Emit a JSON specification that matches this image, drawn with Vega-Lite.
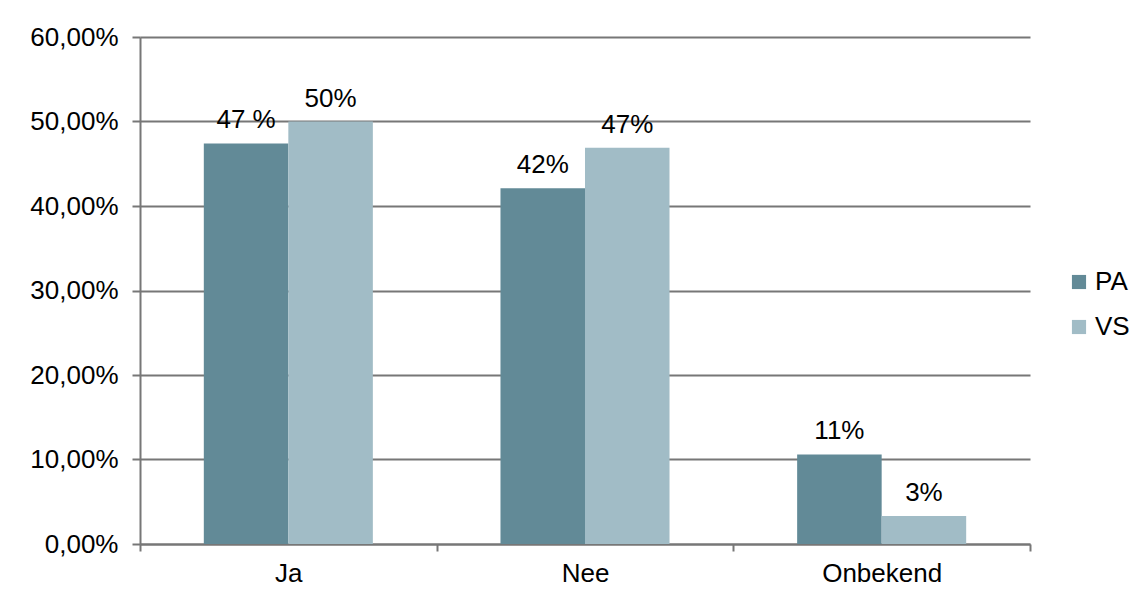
{
  "$schema": "https://vega.github.io/schema/vega-lite/v6.json",
  "width": 890,
  "height": 507,
  "autosize": {"type": "none"},
  "padding": {"left": 140, "top": 37, "right": 117, "bottom": 59},
  "background": "white",
  "config": {
    "view": {"stroke": null},
    "font": "Liberation Sans",
    "locale": {"number": {"decimal": ",", "thousands": ".", "grouping": [3], "currency": ["€", ""]}}
  },
  "data": {
    "values": [
      {"cat": "Ja", "grp": "PA", "val": 0.474, "lbl": "47 %"},
      {"cat": "Ja", "grp": "VS", "val": 0.5, "lbl": "50%"},
      {"cat": "Nee", "grp": "PA", "val": 0.421, "lbl": "42%"},
      {"cat": "Nee", "grp": "VS", "val": 0.469, "lbl": "47%"},
      {"cat": "Onbekend", "grp": "PA", "val": 0.106, "lbl": "11%"},
      {"cat": "Onbekend", "grp": "VS", "val": 0.033, "lbl": "3%"}
    ]
  },
  "encoding": {
    "x": {
      "field": "cat", "type": "nominal", "sort": ["Ja", "Nee", "Onbekend"],
      "scale": {"paddingInner": 0, "paddingOuter": 0},
      "axis": {
        "title": null, "labelAngle": 0, "labelFontSize": 26, "labelColor": "#000",
        "labelPadding": 9, "tickBand": "extent", "tickSize": 7, "tickWidth": 2,
        "tickColor": "#777", "domainColor": "#777", "domainWidth": 2, "grid": false
      }
    },
    "xOffset": {
      "field": "grp", "type": "nominal", "sort": ["PA", "VS"],
      "scale": {"paddingInner": 0, "paddingOuter": 0.755}
    },
    "y": {
      "field": "val", "type": "quantitative",
      "scale": {"domain": [0, 0.6], "nice": false},
      "axis": {
        "title": null, "format": ".2%", "values": [0, 0.1, 0.2, 0.3, 0.4, 0.5, 0.6],
        "labelFontSize": 26, "labelColor": "#000", "labelPadding": 14,
        "tickSize": 8, "tickWidth": 2, "tickColor": "#777",
        "domainColor": "#777", "domainWidth": 2,
        "grid": true, "gridColor": "#777", "gridWidth": 2
      }
    }
  },
  "layer": [
    {
      "mark": {"type": "bar"},
      "encoding": {
        "color": {
          "field": "grp", "type": "nominal",
          "scale": {"domain": ["PA", "VS"], "range": ["#628A97", "#A1BCC6"]},
          "legend": {
            "title": null, "orient": "none", "legendX": 926, "legendY": 232,
            "symbolType": "square", "symbolSize": 200, "symbolStrokeWidth": 0,
            "labelFontSize": 26, "labelColor": "#000", "rowPadding": 19, "labelOffset": 3
          }
        }
      }
    },
    {
      "mark": {"type": "text", "baseline": "bottom", "dy": -10, "fontSize": 26, "color": "#000"},
      "encoding": {"text": {"field": "lbl"}}
    }
  ]
}
